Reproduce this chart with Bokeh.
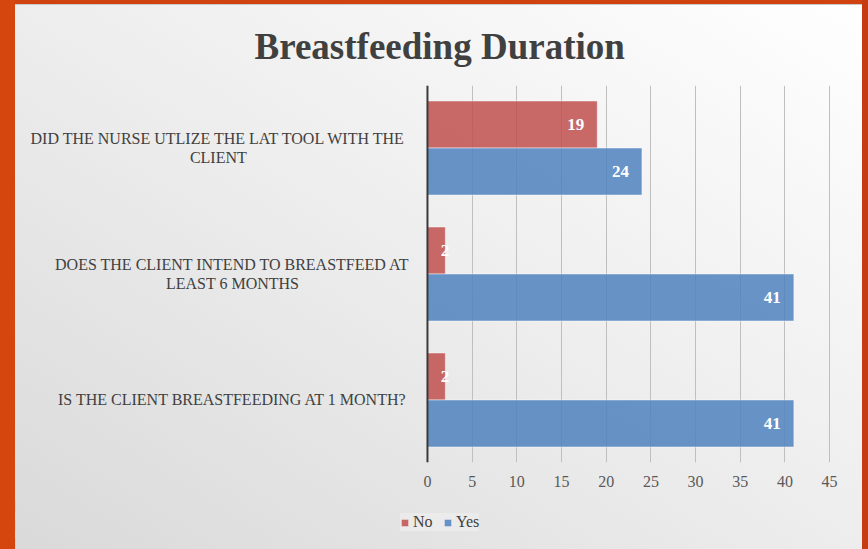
from bokeh.plotting import figure
from bokeh.models import (FactorRange, Range1d, Span, FixedTicker, Legend, LegendItem,
                          ColumnDataSource, Column)
from bokeh.core.properties import value
from bokeh.embed import file_html
from bokeh.resources import INLINE

# ---------------- data ----------------
title_text = "Breastfeeding Duration"
categories = [  # bottom to top
    "IS THE CLIENT BREASTFEEDING AT 1 MONTH?",
    "DOES THE CLIENT INTEND TO BREASTFEED AT LEAST 6 MONTHS",
    "DID THE NURSE UTLIZE THE LAT TOOL WITH THE CLIENT",
]
category_labels = [
    "IS THE CLIENT BREASTFEEDING AT 1 MONTH?",
    "DOES THE CLIENT INTEND TO BREASTFEED AT\nLEAST 6 MONTHS",
    "DID THE NURSE UTLIZE THE LAT TOOL WITH THE\nCLIENT",
]
series = ["No", "Yes"]
no_values = [2, 2, 19]
yes_values = [41, 41, 24]
x_ticks = [0, 5, 10, 15, 20, 25, 30, 35, 40, 45]

# ---------------- styles ----------------
SERIF = "Liberation Serif"
NO_COLOR = "#C0504D"
YES_COLOR = "#4F81BD"
TEXT_DARK = "#404040"
label_centers = [-21.8, -21.8, -23.4]   # horizontal centre of category label blocks (data units)
bar_style = dict(fill_alpha=0.85, line_color="white", line_alpha=0.45)

factors = []
for c in categories:
    factors.append((c, "Yes"))
    factors.append((c, "No"))

yr = FactorRange(factors=factors, factor_padding=0, group_padding=0.68,
                 range_padding=0.33, range_padding_units="absolute")

p = figure(width=868, height=500, y_range=yr, x_range=Range1d(-46.1, 45.1),
           output_backend="svg", toolbar_location=None,
           min_border_left=15, min_border_right=38, min_border_top=85, min_border_bottom=38,
           title=title_text)

p.background_fill_color = None
p.border_fill_color = None
p.outline_line_color = None

p.title.align = "left"
p.title.offset = 239
p.title.standoff = 38
p.title.text_font = SERIF
p.title.text_font_size = "37px"
p.title.text_font_style = "bold"
p.title.text_color = TEXT_DARK

# grid / axes
p.yaxis.visible = False
p.ygrid.visible = False
p.xgrid.ticker = FixedTicker(ticks=x_ticks)
p.xgrid.grid_line_color = "#bfbfbf"
p.xgrid.grid_line_width = 1
p.xaxis.ticker = FixedTicker(ticks=x_ticks)
p.xaxis.axis_line_color = None
p.xaxis.major_tick_line_color = None
p.xaxis.minor_tick_line_color = None
p.xaxis.major_tick_out = 0
p.xaxis.major_tick_in = 0
p.xaxis.minor_tick_out = 0
p.xaxis.major_label_standoff = 13
p.xaxis.major_label_text_font = SERIF
p.xaxis.major_label_text_font_size = "16px"
p.xaxis.major_label_text_color = "#595959"

# bars
no_src = ColumnDataSource(dict(
    y=[(c, "No") for c in categories], right=no_values,
    label=[str(v) for v in no_values],
    dx=[-13 if v > 5 else 4 for v in no_values]))
yes_src = ColumnDataSource(dict(
    y=[(c, "Yes") for c in categories], right=yes_values,
    label=[str(v) for v in yes_values],
    dx=[-13 if v > 5 else 4 for v in yes_values]))

p.hbar(y="y", right="right", left=0, height=1.0, source=no_src, fill_color=NO_COLOR, **bar_style)
p.hbar(y="y", right="right", left=0, height=1.0, source=yes_src, fill_color=YES_COLOR, **bar_style)

for src in (no_src, yes_src):
    p.text(x="right", y="y", text="label", x_offset="dx", source=src,
           text_align="right", text_baseline="middle", text_color="white",
           text_font=value(SERIF), text_font_style="bold", text_font_size="17px")

# zero line
p.add_layout(Span(location=0, dimension="height", line_color="#3a3a3a", line_width=2))

# category labels
p.text(x=label_centers, y=categories, text=category_labels,
       text_align="center", text_baseline="middle", text_color=TEXT_DARK,
       text_font=value(SERIF), text_font_size="16px", text_line_height=1.15)

# ---------------- legend strip (separate small figure below the chart) ----------------
lg = figure(width=868, height=49, x_range=Range1d(1000, 1100), y_range=FactorRange(factors=factors),
            output_backend="svg", toolbar_location=None,
            x_axis_type=None, y_axis_type=None,
            min_border_left=0, min_border_right=0, min_border_top=0, min_border_bottom=0)
lg.background_fill_color = None
lg.border_fill_color = None
lg.outline_line_color = None
lg_no = lg.hbar(y="y", right="right", left=0, height=1.0, source=no_src, fill_color=NO_COLOR, **bar_style)
lg_yes = lg.hbar(y="y", right="right", left=0, height=1.0, source=yes_src, fill_color=YES_COLOR, **bar_style)

legend = Legend(items=[LegendItem(label=series[0], renderers=[lg_no]),
                       LegendItem(label=series[1], renderers=[lg_yes])],
                orientation="horizontal", location=(385, 18))
legend.label_text_font = SERIF
legend.label_text_font_size = "16px"
legend.label_text_color = TEXT_DARK
legend.glyph_width = 9
legend.glyph_height = 9
legend.label_standoff = 4
legend.spacing = 10
legend.padding = 8
legend.margin = 0
legend.background_fill_color = "#ebebeb"
legend.background_fill_alpha = 1.0
legend.border_line_color = None
lg.add_layout(legend)

layout = Column(children=[p, lg], spacing=0, styles={
    "background": (
        "linear-gradient(to right, #d4460e 0px, #d4460e 15px, transparent 15px, "
        "transparent calc(100% - 6px), #c63c12 calc(100% - 6px)), "
        "linear-gradient(to bottom, #d0420f 0px, #d0420f 4px, #c9c9c9 4px, #c9c9c9 5px, transparent 5px), "
        "linear-gradient(to top right, #d9d9d9 0%, #ededed 50%, #ffffff 100%)")
})

open("out.html", "w").write(file_html(layout, INLINE))
